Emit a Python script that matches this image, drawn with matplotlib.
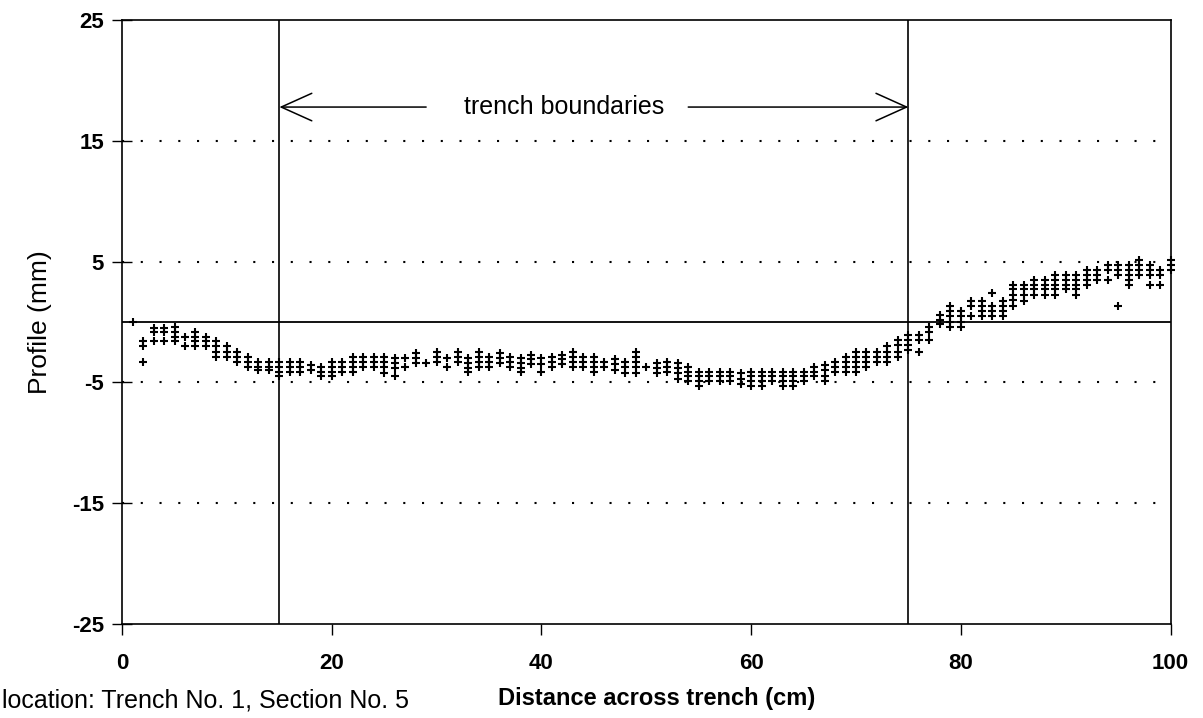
import numpy as np
import matplotlib
matplotlib.use("Agg")
import matplotlib.pyplot as plt

nan = np.nan

# position across the trench (cm), one column of readings per cm
distance = np.arange(1, 101)

# profile readings (mm), stacked per column from top to bottom; nan = no reading
reading_1 = [0.0, -1.6, -0.5, -0.5, -0.4, -1.2, -0.8, -1.2, -1.6, -2.0,
             -2.5, -2.9, -3.3, -3.3, -3.3, -3.3, -3.3, -3.6, -3.7, -3.3,
             -3.3, -2.9, -2.9, -2.9, -2.9, -3.0, -3.0, -2.6, -3.4, -2.5,
             -3.0, -2.5, -3.0, -2.5, -2.9, -2.6, -2.9, -3.0, -2.7, -3.0,
             -2.9, -2.7, -2.5, -2.9, -2.9, -3.3, -3.1, -3.3, -2.5, -3.7,
             -3.4, -3.3, -3.4, -3.7, -4.1, -4.1, -4.1, -4.1, -4.2, -4.1,
             -4.1, -4.1, -4.1, -4.1, -4.1, -3.7, -3.6, -3.3, -2.9, -2.5,
             -2.5, -2.5, -2.0, -1.5, -1.1, -1.1, -0.4, 0.6, 1.3, 0.9,
             1.7, 1.7, 2.4, 1.7, 3.1, 3.1, 3.5, 3.5, 3.9, 3.9,
             3.9, 4.3, 4.3, 4.7, 4.7, 4.7, 5.1, 4.7, 4.3, 5.1]
reading_2 = [nan, -2.0, -0.8, -0.8, -0.8, -2.0, -1.2, -1.6, -2.0, -2.5,
             -2.9, -3.3, -3.7, -3.7, -3.7, -3.7, -3.7, -4.0, -4.1, -3.7,
             -3.7, -3.3, -3.3, -3.3, -3.3, -3.4, -3.7, -3.0, nan, -2.9,
             -3.7, -2.9, -3.4, -2.9, -3.3, -3.0, -3.3, -3.4, -3.1, -3.5,
             -3.3, -3.1, -2.9, -3.3, -3.3, -3.7, -3.5, -3.7, -2.9, nan,
             -3.8, -3.7, -3.8, -4.1, -4.5, -4.5, -4.5, -4.5, -4.7, -4.5,
             -4.5, -4.5, -4.5, -4.5, -4.5, -4.1, -4.0, -3.7, -3.3, -2.9,
             -2.9, -2.9, -2.5, -1.9, -1.5, -1.5, -0.8, 0.2, 0.9, 0.5,
             1.3, 1.3, 1.3, 1.3, 2.7, 2.7, 3.1, 3.1, 3.5, 3.5,
             3.5, 3.9, 3.9, 4.3, 4.3, 4.3, 4.7, 4.3, 3.9, 4.7]
reading_3 = [nan, -3.3, -1.6, -1.6, -1.2, nan, -1.6, -2.0, -2.5, -2.9,
             -3.3, -3.7, -4.0, -4.0, -4.1, -4.1, -4.1, nan, -4.5, -4.1,
             -4.1, -3.7, -3.7, -3.7, -3.7, -3.8, nan, -3.4, nan, -3.3,
             nan, -3.3, -3.8, -3.3, -3.7, -3.4, -3.7, -3.8, -3.5, -4.1,
             -3.7, -3.5, -3.3, -3.7, -3.7, nan, -4.0, -4.2, -3.3, nan,
             -4.2, -4.1, -4.2, -4.5, -4.9, -4.9, -4.9, -4.9, -5.1, -4.9,
             -4.9, -4.9, -4.9, -4.9, -4.9, -4.5, -4.5, -4.1, -3.7, -3.3,
             -3.3, -3.3, -2.9, -2.5, -1.9, -2.5, -1.5, -0.2, 0.5, 0.0,
             0.5, 0.9, 0.9, 0.9, 2.2, 2.2, 2.7, 2.7, 3.1, 3.1,
             3.1, 3.5, 3.5, 3.5, 3.9, 3.9, 4.3, 3.9, 3.1, 4.3]
reading_4 = [nan, nan, nan, nan, -1.6, nan, -2.0, nan, -2.9, nan,
             nan, nan, nan, nan, -4.5, nan, nan, nan, nan, -4.5,
             nan, -4.1, nan, nan, -4.2, -4.5, nan, nan, nan, nan,
             nan, nan, -4.1, -3.7, nan, nan, nan, -4.1, nan, nan,
             nan, nan, -3.7, nan, -4.1, nan, nan, nan, -3.7, nan,
             nan, nan, -4.7, -4.9, -5.3, nan, nan, nan, nan, -5.3,
             -5.3, nan, -5.3, -5.3, nan, nan, -4.9, nan, -4.1, -3.7,
             -3.7, nan, -3.3, -2.9, -2.3, nan, nan, nan, 0.0, -0.4,
             nan, 0.5, 0.5, 0.5, 1.8, 1.7, 2.2, 2.2, 2.7, 2.7,
             2.7, 3.1, nan, nan, 1.3, 3.5, 3.9, 3.1, nan, nan]
reading_5 = [nan, nan, nan, nan, nan, nan, nan, nan, nan, nan,
             nan, nan, nan, nan, nan, nan, nan, nan, nan, nan,
             nan, nan, nan, nan, nan, nan, nan, nan, nan, nan,
             nan, nan, nan, nan, nan, nan, nan, nan, nan, nan,
             nan, nan, nan, nan, nan, nan, nan, nan, -4.2, nan,
             nan, nan, nan, nan, nan, nan, nan, nan, nan, nan,
             nan, nan, nan, nan, nan, nan, nan, nan, nan, -4.1,
             nan, nan, nan, nan, nan, nan, nan, nan, -0.4, nan,
             nan, nan, nan, nan, 1.3, nan, nan, nan, 2.2, nan,
             2.2, nan, nan, nan, nan, 3.1, nan, nan, nan, nan]

x_ticks = [0, 20, 40, 60, 80, 100]
y_ticks = [-25, -15, -5, 5, 15, 25]
grid_levels = [-15, -5, 5, 15]
boundaries = [15, 75]

plt.rcParams['font.family'] = ['Liberation Sans', 'DejaVu Sans']

fig = plt.figure(figsize=(12.03, 7.18), dpi=100)
ax = fig.add_axes([0.1015, 0.131, 0.8715, 0.841])

for r in [reading_1, reading_2, reading_3, reading_4, reading_5]:
    ax.plot(distance, r, linestyle='none', marker='+', color='black',
            markersize=6.2, markeredgewidth=1.5, clip_on=False)

# dotted reference levels, solid zero line
for lvl in grid_levels:
    ax.axhline(lvl, color='black', linewidth=1.5, linestyle=(0, (1, 8)), zorder=0)
ax.axhline(0, color='black', linewidth=1.3)

for b in boundaries:
    ax.axvline(b, color='black', linewidth=1.2)

# trench boundary annotation
arrow_y = 17.8
arrow_kw = dict(arrowstyle='->,head_length=1.0,head_width=0.45', lw=1.1,
                color='black', mutation_scale=22, shrinkA=0, shrinkB=0)
ax.annotate('', xy=(boundaries[0], arrow_y), xytext=(29, arrow_y), arrowprops=arrow_kw)
ax.annotate('', xy=(boundaries[1], arrow_y), xytext=(54, arrow_y), arrowprops=arrow_kw)
ax.text(42.2, arrow_y, 'trench boundaries', ha='center', va='center', fontsize=18)

ax.set_xlim(0, 100)
ax.set_ylim(-25, 25)
ax.set_xticks(x_ticks)
ax.set_yticks(y_ticks)
ax.set_xticklabels([str(v) for v in x_ticks], fontsize=16, fontweight='bold')
ax.set_yticklabels([str(v) for v in y_ticks], fontsize=16, fontweight='bold')
ax.tick_params(axis='x', direction='out', length=8, width=1, pad=13)
ax.tick_params(axis='y', direction='inout', length=14, width=1, pad=6)
for s in ax.spines.values():
    s.set_linewidth(1.2)

ax.set_ylabel('Profile (mm)', fontsize=19, labelpad=14)
ax.set_xlabel('Distance across trench (cm)', fontsize=17, fontweight='bold', labelpad=10)
ax.xaxis.set_label_coords(0.51, -0.105)
fig.text(0.002, 0.025, 'location: Trench No. 1, Section No. 5', fontsize=18,
         ha='left', va='center')

fig.savefig('out.png', dpi=100)
